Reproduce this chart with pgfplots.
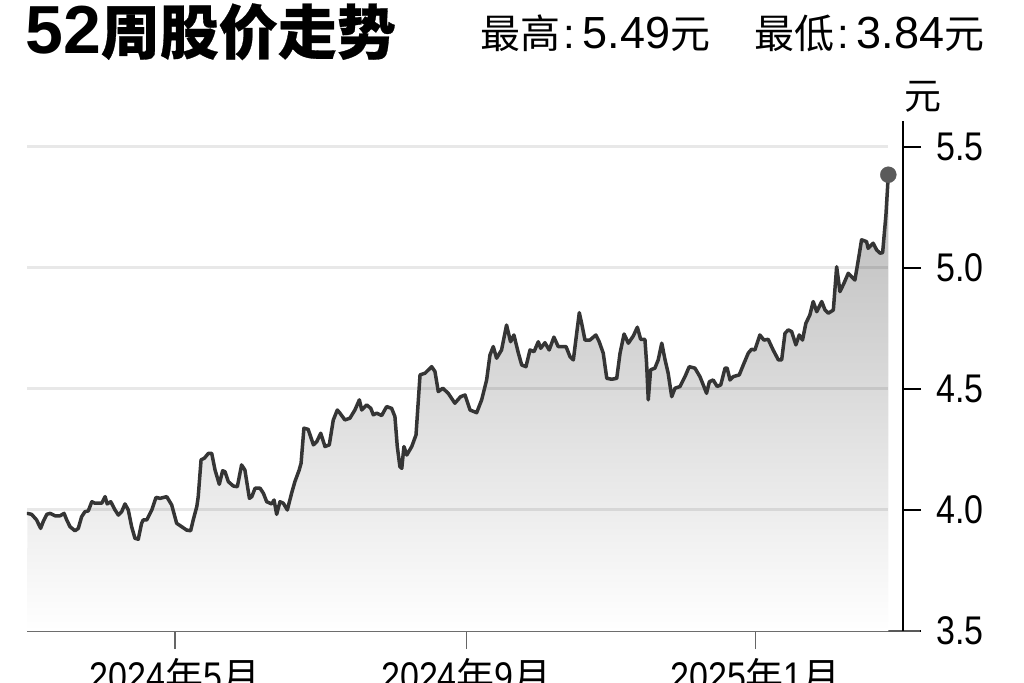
\documentclass[border=0pt]{standalone}
\usepackage{fontspec}
\usepackage{pgfplots}
\usepackage{pgfplotstable}
\pgfplotsset{compat=1.18}
\setmainfont{Liberation Sans}
\newfontfamily\cjk{Noto Sans CJK SC}
\newfontfamily\cjktitle{Noto Sans CJK SC}[BoldFeatures={FakeBold=0.5}]
\newfontfamily\condfont[FakeStretch=0.85]{Liberation Sans}
\newcommand\ticklab{\condfont\fontsize{40}{40}\selectfont}
\newcommand\cjkx{\cjk\fontsize{38}{38}\selectfont}
\definecolor{linegray}{HTML}{353535}
\definecolor{markgray}{HTML}{5A5A5A}

% day index: 0 = 2024-05-01 ; value in yuan
\pgfplotstableread{
d v
-62.3 3.986
-60.5 3.982
-58.4 3.959
-56.7 3.924
-55.6 3.952
-54.1 3.982
-52.7 3.986
-50.6 3.976
-48.5 3.976
-46.8 3.986
-45.7 3.959
-44.3 3.931
-42.2 3.914
-40.8 3.924
-39.4 3.972
-38.0 3.993
-36.6 3.996
-35.1 4.034
-33.8 4.028
-30.9 4.028
-29.5 4.055
-28.6 4.025
-27.1 4.034
-25.3 4.000
-23.9 3.979
-22.5 3.993
-21.1 4.025
-19.7 4.000
-18.3 3.931
-16.9 3.883
-15.5 3.879
-14.1 3.945
-13.4 3.959
-11.9 3.959
-9.8 4.000
-8.0 4.052
-6.3 4.048
-3.5 4.055
-1.4 4.021
0.7 3.945
2.8 3.931
4.9 3.917
6.6 3.914
7.7 3.959
9.2 4.014
9.8 4.055
11.0 4.207
12.4 4.214
14.1 4.234
15.5 4.234
16.9 4.165
18.7 4.106
20.1 4.162
21.1 4.158
22.5 4.117
24.6 4.099
26.3 4.096
28.1 4.186
29.5 4.165
31.4 4.048
32.4 4.055
33.8 4.090
35.9 4.090
37.3 4.069
38.7 4.034
40.8 4.025
41.8 4.041
42.9 3.982
44.3 4.034
45.7 4.028
47.4 4.000
49.2 4.069
50.6 4.117
52.4 4.165
53.2 4.193
54.4 4.338
56.2 4.333
58.4 4.269
59.8 4.282
61.5 4.317
63.3 4.262
65.1 4.269
66.8 4.372
68.5 4.413
69.6 4.400
71.7 4.372
73.8 4.379
75.9 4.413
77.8 4.455
78.8 4.413
80.9 4.434
82.6 4.420
83.7 4.393
85.1 4.400
87.2 4.390
89.3 4.427
91.4 4.420
92.8 4.386
93.8 4.262
94.9 4.179
95.7 4.172
96.6 4.262
97.8 4.227
99.9 4.262
101.7 4.310
103.4 4.558
105.5 4.565
108.3 4.592
109.7 4.572
111.1 4.489
113.0 4.503
115.3 4.482
118.1 4.441
120.5 4.468
122.4 4.475
124.5 4.413
127.3 4.402
129.4 4.455
131.5 4.537
132.9 4.640
134.3 4.675
135.7 4.627
137.8 4.661
139.9 4.764
141.6 4.695
143.0 4.723
144.9 4.648
146.3 4.599
148.1 4.592
149.8 4.661
151.5 4.654
153.3 4.695
154.3 4.668
156.1 4.691
157.9 4.661
159.9 4.714
161.7 4.675
165.0 4.675
166.7 4.633
168.1 4.620
169.5 4.730
170.6 4.815
171.6 4.771
173.0 4.702
175.1 4.702
177.6 4.723
179.0 4.695
180.7 4.648
182.2 4.544
184.3 4.540
186.4 4.544
187.8 4.648
189.5 4.727
191.3 4.689
193.4 4.719
195.1 4.755
196.5 4.705
198.3 4.705
199.0 4.606
199.7 4.455
200.7 4.579
202.5 4.586
203.9 4.620
205.4 4.689
206.8 4.620
208.1 4.565
209.6 4.468
211.0 4.503
213.1 4.510
215.2 4.551
217.0 4.592
219.4 4.586
221.5 4.551
222.9 4.517
224.3 4.482
225.5 4.530
227.1 4.537
228.8 4.510
230.3 4.517
232.1 4.586
233.0 4.586
234.2 4.537
235.6 4.551
238.1 4.558
239.8 4.599
241.9 4.648
243.3 4.664
244.7 4.661
246.8 4.723
248.5 4.702
250.3 4.705
252.4 4.661
254.6 4.620
256.0 4.620
257.4 4.730
258.8 4.744
260.2 4.737
262.0 4.682
263.4 4.723
264.8 4.702
266.2 4.771
267.9 4.806
269.3 4.861
270.8 4.819
272.9 4.861
274.3 4.826
275.7 4.813
277.8 4.826
279.2 5.005
280.6 4.902
282.3 4.937
284.1 4.978
285.5 4.964
286.9 4.950
288.7 5.054
289.7 5.116
291.8 5.109
292.5 5.081
294.6 5.102
296.1 5.074
297.5 5.061
298.6 5.063
300.0 5.220
301.0 5.385
}\pricedata

\begin{document}
\begin{tikzpicture}
\begin{axis}[
  at={(27pt,51pt)}, anchor=south west,
  scale only axis, width=876pt, height=510pt,
  xmin=-62.45, xmax=307.2, ymin=3.5, ymax=5.607,
  axis x line=bottom, axis y line=right,
  axis line style={-},
  x axis line style={draw=black!65, line width=1.6pt, shorten >=-17pt},
  y axis line style={draw=black, line width=1.3pt},
  xtick={0,123,245},
  xticklabels={{2024{\cjkx 年}5{\cjkx 月}},{2024{\cjkx 年}9{\cjkx 月}},{2025{\cjkx 年}1{\cjkx 月}}},
  ytick={3.5,4,4.5,5,5.5},
  yticklabels={3.5,4.0,4.5,5.0,5.5},
  tick align=outside, major tick length=18pt,
  xtick style={draw=black!60, line width=1.3pt},
  ytick style={draw=black, line width=1.3pt},
  tick label style={font=\ticklab},
  yticklabel style={anchor=west, xshift=12pt},
  xticklabel style={anchor=north, yshift=-6pt},
]
\addplot[draw=none, top color=black!27, bottom color=white, forget plot]
  table[x=d, y=v] {\pricedata} -- (axis cs:301.0,3.5) -- (axis cs:-62.45,3.5) -- cycle;
\foreach \g in {4.0,4.5,5.0,5.5}{
  \addplot[draw=black, draw opacity=0.09, line width=3pt, forget plot]
    coordinates {(-62.45,\g) (301.0,\g)};
}
\addplot[draw=linegray, line width=3.5pt, line join=round, line cap=round, forget plot]
  table[x=d, y=v] {\pricedata};
\addplot[only marks, mark=*, mark size=8pt, mark options={fill=markgray, draw=markgray}, forget plot]
  coordinates {(301.0,5.385)};
\end{axis}
\node[anchor=base west, inner sep=0] at (25pt,628pt)
  {\fontsize{68}{68}\selectfont\bfseries 52{\cjktitle\bfseries\fontsize{59}{59}\selectfont 周股价走势}};
\node[anchor=base west, inner sep=0] at (480pt,633pt)
  {{\cjk\fontsize{40}{40}\selectfont 最高}\hspace{3pt}{\fontsize{42}{42}\selectfont :}\hspace{8pt}{\fontsize{45}{45}\selectfont 5.49}{\cjk\fontsize{40}{40}\selectfont 元}};
\node[anchor=base west, inner sep=0] at (754pt,633pt)
  {{\cjk\fontsize{40}{40}\selectfont 最低}\hspace{3pt}{\fontsize{42}{42}\selectfont :}\hspace{8pt}{\fontsize{45}{45}\selectfont 3.84}{\cjk\fontsize{40}{40}\selectfont 元}};
\node[anchor=center, inner sep=0] at (923pt,585pt) {\cjk\fontsize{37}{37}\selectfont 元};
\pgfresetboundingbox
\useasboundingbox (0,0) rectangle (1024pt,682pt);
\end{tikzpicture}
\end{document}
